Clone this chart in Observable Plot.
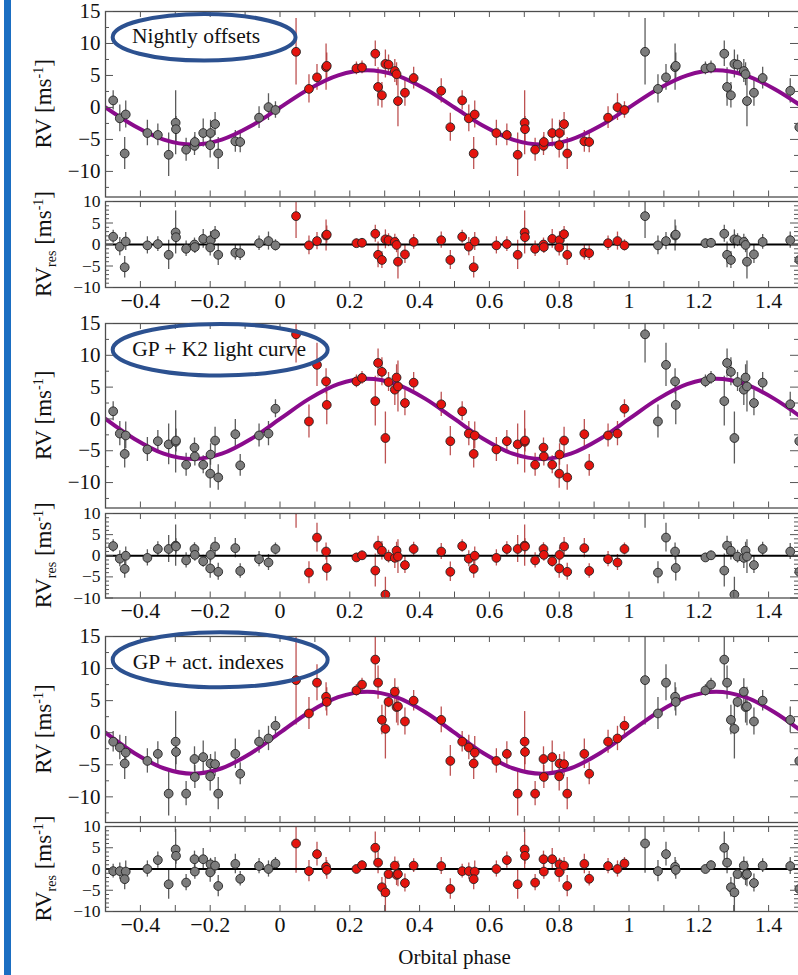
<!DOCTYPE html>
<html><head><meta charset="utf-8">
<script src="https://cdn.jsdelivr.net/npm/d3@7"></script>
<script src="https://cdn.jsdelivr.net/npm/@observablehq/plot@0.6"></script>
<style>
html,body{margin:0;padding:0;background:#fff;overflow:hidden;}
#fig{position:relative;width:798px;height:975px;overflow:hidden;background:#fff;}
#band{position:absolute;left:4px;top:0;width:7px;height:975px;background:#1b6ec2;}
</style></head><body>
<div id="fig"><div id="band"></div></div>
<script>
// ---------- data ----------
const phase = [0.046,0.083,0.106,0.132,0.134,0.219,0.235,0.273,0.281,0.292,0.302,0.311,0.329,0.334,0.338,0.358,0.383,0.462,0.488,0.522,0.541,0.558,0.555,0.620,0.650,0.681,0.701,0.702,0.731,0.755,0.756,0.780,0.801,0.800,0.814,0.823,0.872,0.886,0.940,0.967,0.987];

const rvNightly  = [8.7,2.9,4.7,6.3,6.5,6.1,6.25,8.4,3.2,1.9,6.8,6.7,5.7,5.2,1.0,2.3,4.6,2.6,-3.1,1.1,-1.7,-1.1,-7.2,-4.0,-4.3,-7.4,-2.4,-3.4,-6.6,-6.0,-5.4,-4.0,-4.0,-5.9,-2.6,-7.2,-5.3,-5.4,-1.6,0.05,-0.4];
const resNightly = [6.6,-0.2,0.8,2.1,2.3,0.3,0.4,2.5,-2.4,-3.6,1.2,1.0,0.6,-0.1,-4.0,-2.3,0.6,1.0,-3.6,1.8,-0.5,0.7,-5.3,-0.2,0.1,-2.4,2.8,1.7,-1.0,0.0,-0.6,1.3,1.0,-0.7,2.4,-2.4,-1.9,-2.0,0.3,0.8,-0.2];
const errNightly = [5.2,2.2,2.0,3.6,2.0,1.0,1.0,2.0,3.0,2.0,2.2,1.5,1.8,1.8,4.0,2.1,1.7,1.9,2.2,1.5,2.1,2.1,2.5,2.0,1.7,3.4,5.0,2.0,1.8,1.5,1.5,2.2,2.0,2.0,1.8,2.5,1.7,1.7,1.7,2.1,1.3];

const rvK2  = [13.3,-0.4,8.5,5.9,2.2,5.9,6.45,2.8,8.8,7.4,-3.0,5.8,4.6,6.5,5.1,2.5,5.7,2.3,-3.5,1.2,-2.3,-2.6,-5.5,-4.8,-3.5,-4.0,-3.6,-3.4,-7.2,-4.5,-5.9,-7.2,-5.6,-8.6,-3.4,-9.2,-2.4,-7.3,-2.6,-2.3,1.6];
const resK2 = [11.0,-4.0,4.3,1.0,-2.9,-0.4,0.1,-3.5,2.4,1.2,-9.2,-0.2,-0.5,1.2,-0.2,-2.2,1.6,1.0,-3.8,2.3,-0.7,0.0,-3.1,-0.5,1.6,1.6,2.4,2.2,-1.1,1.6,0.2,-1.3,0.2,-3.0,2.2,-3.8,1.8,-3.6,-0.8,-1.6,1.6];
const errK2 = [4.5,2.6,3.4,2.0,3.1,1.0,1.0,3.9,2.2,2.2,4.1,1.5,2.5,2.0,4.0,2.0,1.6,1.9,2.3,1.5,1.9,2.1,2.2,1.9,1.7,3.2,4.9,1.8,1.8,1.5,1.5,1.4,1.7,2.3,2.1,2.0,2.3,1.7,1.8,1.9,1.4];

const rvAct  = [8.2,3.0,7.8,5.6,4.8,6.6,7.5,11.4,7.8,2.0,0.6,4.8,6.4,4.0,4.1,1.75,5.0,2.0,-4.4,-1.4,-2.3,-3.1,-4.8,-4.4,-3.3,-9.5,-1.4,-3.0,-9.5,-4.1,-6.9,-3.8,-4.8,-6.8,-4.9,-9.5,-3.3,-6.4,-1.4,-0.9,1.1];
const resAct = [6.0,-0.5,3.5,0.5,-0.2,0.0,0.9,5.0,1.5,-4.3,-5.5,-1.2,0.8,-1.4,-1.2,-3.3,0.8,0.7,-4.7,-0.5,-0.5,-0.6,-2.4,0.0,2.1,-3.6,4.6,3.1,-3.2,2.3,-0.6,2.3,1.1,-0.8,0.8,-4.0,1.2,-2.3,0.7,0.0,1.3];
const errAct = [7.0,2.5,2.8,2.2,2.2,0.9,1.0,3.7,2.6,2.3,4.7,0.9,2.0,2.5,3.0,2.1,1.6,2.0,2.4,1.6,1.9,2.5,2.5,1.9,1.9,3.5,4.7,2.0,1.9,1.9,1.8,2.5,1.4,2.3,1.9,2.5,2.3,1.7,1.8,1.9,1.4];

// Keplerian model curve, read at 1/12-phase knots
const curvePhase = [-0.5,-0.4167,-0.3333,-0.25,-0.1667,-0.0833,0,0.0833,0.1667,0.25,0.3333,0.4167,0.5,0.5833,0.6667,0.75,0.8333,0.9167,1,1.0833,1.1667,1.25,1.3333,1.4167,1.5];
const curveNightly = [0,-2.9,-5.02,-5.8,-5.02,-2.9,0,2.9,5.02,5.8,5.02,2.9,0,-2.9,-5.02,-5.8,-5.02,-2.9,0,2.9,5.02,5.8,5.02,2.9,0];
const curveK2      = [0,-3.15,-5.46,-6.3,-5.46,-3.15,0,3.15,5.46,6.3,5.46,3.15,0,-3.15,-5.46,-6.3,-5.46,-3.15,0,3.15,5.46,6.3,5.46,3.15,0];
const curveAct     = [0,-3.2,-5.54,-6.4,-5.54,-3.2,0,3.2,5.54,6.4,5.54,3.2,0,-3.2,-5.54,-6.4,-5.54,-3.2,0,3.2,5.54,6.4,5.54,3.2,0];

// ticks and labels
const xTickLabels = [-0.4,-0.2,0,0.2,0.4,0.6,0.8,1,1.2,1.4];
const xMinorTicks = [-0.4,-0.3,-0.2,-0.1,0,0.1,0.2,0.3,0.4,0.5,0.6,0.7,0.8,0.9,1,1.1,1.2,1.3,1.4];
const rvTicks  = [-10,-5,0,5,10,15];
const rvMinor  = [-12.5,-7.5,-2.5,2.5,7.5,12.5];
const resTicks = [-10,-5,0,5,10];
const resMinor = [-9,-8,-7,-6,-4,-3,-2,-1,1,2,3,4,6,7,8,9];
const modelNames = ["Nightly offsets","GP + K2 light curve","GP + act. indexes"];
const xTitle = "Orbital phase";

// ---------- drawing ----------
const fig = document.getElementById("fig");
const W = 803, ML = 105;
const FONT = "Liberation Serif, Times New Roman, serif";
const fmt = d => (d < 0 ? "\u2212" : "") + Math.abs(d);

function scaleFn(s) {
  if (s && typeof s.apply === "function") return v => s.apply(v);
  return d3.scaleLinear(s.domain, s.range);
}

function panel(cfg) {
  const {top, h, domain, vals, errs, resid, curveVals, xLabels, withTitle, note} = cfg;
  const mt = 3, mb = withTitle ? 64 : (xLabels ? 36 : 3);
  const iw = W - ML;
  const rows = phase.map((p, i) => ({x: p, v: vals[i], e: errs[i]}));
  const copies = rows.map(d => ({...d, x: d.x < 0.5 ? d.x + 1 : d.x - 1}));
  const bars = (data, stroke, op) => Plot.ruleX(data, {x: "x", y1: d => d.v - d.e, y2: d => d.v + d.e, stroke, strokeOpacity: op, strokeWidth: 1.3, clip: true});
  const yMaj = resid ? resTicks : rvTicks;
  const yMin = resid ? resMinor : rvMinor;
  const tk = "#555";
  const marks = [
    bars(copies, "#4a4a4a", 0.9),
    bars(rows, "#b23434", 0.85),
    resid
      ? Plot.ruleY([0], {stroke: "#000", strokeWidth: 2})
      : Plot.line(curvePhase.map((p, i) => ({x: p, y: curveVals[i]})), {x: "x", y: "y", stroke: "#8a0b8c", strokeWidth: 4, curve: "catmull-rom", clip: true}),
    Plot.dot(copies, {x: "x", y: "v", r: 4.4, fill: "#7c7c7c", stroke: "#222", strokeWidth: 0.9, clip: true}),
    Plot.dot(rows, {x: "x", y: "v", r: 4.4, fill: "#e5140e", stroke: "#222", strokeWidth: 0.9, clip: true}),
    Plot.frame({stroke: "#4d4d4d", strokeWidth: 1.3}),
    Plot.ruleX(xMinorTicks, {x: d => d, insetBottom: h - 6, stroke: tk}),
    Plot.ruleX(xMinorTicks, {x: d => d, insetTop: h - 6, stroke: tk}),
    Plot.ruleY(yMin, {y: d => d, insetRight: iw - 4, stroke: tk}),
    Plot.ruleY(yMaj, {y: d => d, insetRight: iw - 8, stroke: tk}),
    Plot.ruleY(yMin, {y: d => d, insetLeft: iw - 9, stroke: tk}),
    Plot.ruleY(yMaj, {y: d => d, insetLeft: iw - 13, stroke: tk}),
    Plot.text(yMaj, {y: d => d, frameAnchor: "left", dx: -5, textAnchor: "end", text: fmt, fontSize: resid ? 17.5 : 21, fontFamily: FONT, fill: "#111"})
  ];
  if (xLabels) marks.push(Plot.text(xTickLabels, {x: d => d, frameAnchor: "bottom", dy: 20, text: fmt, fontSize: 22, fontFamily: FONT, fill: "#111"}));
  if (withTitle) marks.push(Plot.text([xTitle], {frameAnchor: "bottom", dy: 52, text: d => d, fontSize: 21, fontFamily: FONT, fill: "#111"}));

  const svg = Plot.plot({
    width: W, height: h + mt + mb,
    marginLeft: ML, marginRight: 0, marginTop: mt, marginBottom: mb,
    x: {domain: [-0.5, 1.5], axis: null},
    y: {domain, axis: null},
    style: `background:none;max-width:none;overflow:visible;font-family:${FONT};color:#111;`,
    marks
  });
  svg.style.position = "absolute";
  svg.style.left = "0px";
  svg.style.top = (top - mt) + "px";

  const g = d3.select(svg);
  // y-axis title
  const t = g.append("text")
    .attr("transform", `translate(51,${mt + h / 2}) rotate(-90)`)
    .attr("text-anchor", "middle")
    .style("font-family", FONT).attr("font-size", 23).attr("fill", "#111");
  t.append("tspan").text("RV");
  if (resid) {
    t.append("tspan").attr("font-size", 14).attr("dy", 5).text("res");
    t.append("tspan").attr("dy", -5).text(" [ms");
  } else {
    t.append("tspan").text(" [ms");
  }
  t.append("tspan").attr("font-size", 14).attr("dy", -8).text("-1");
  t.append("tspan").attr("dy", 8).text("]");

  // model annotation
  if (note) {
    const sx = scaleFn(svg.scale("x")), sy = scaleFn(svg.scale("y"));
    const cx = sx(note.ex), cy = sy(note.ey);
    const rx = Math.abs(sx(note.ex + note.erx) - cx), ry = Math.abs(sy(note.ey + note.ery) - cy);
    g.append("ellipse").attr("cx", cx).attr("cy", cy).attr("rx", rx).attr("ry", ry)
      .attr("fill", "none").attr("stroke", "#2c5190").attr("stroke-width", 4);
    g.append("text").attr("x", sx(note.tx)).attr("y", sy(note.ty))
      .attr("text-anchor", "middle").attr("dominant-baseline", "central")
      .style("font-family", FONT).attr("font-size", 21.5).attr("fill", "#111").text(note.label);
  }
  fig.appendChild(svg);
}

const rvDomain = [-14, 15], resDomain = [-10, 10];
panel({top: 11, h: 185.5, domain: rvDomain, vals: rvNightly, errs: errNightly, curveVals: curveNightly,
  note: {label: modelNames[0], ex: -0.216, ey: 10.9, erx: 0.262, ery: 3.65, tx: -0.239, ty: 11.1}});
panel({top: 201, h: 86, domain: resDomain, vals: resNightly, errs: errNightly, resid: true, xLabels: true});
panel({top: 323, h: 184.5, domain: rvDomain, vals: rvK2, errs: errK2, curveVals: curveK2,
  note: {label: modelNames[1], ex: -0.170, ey: 10.8, erx: 0.308, ery: 4.05, tx: -0.173, ty: 10.9}});
panel({top: 513, h: 84.5, domain: resDomain, vals: resK2, errs: errK2, resid: true, xLabels: true});
panel({top: 636, h: 186, domain: rvDomain, vals: rvAct, errs: errAct, curveVals: curveAct,
  note: {label: modelNames[2], ex: -0.170, ey: 11.3, erx: 0.308, ery: 4.3, tx: -0.204, ty: 10.9}});
panel({top: 826, h: 85, domain: resDomain, vals: resAct, errs: errAct, resid: true, xLabels: true, withTitle: true});
</script>
</body></html>
